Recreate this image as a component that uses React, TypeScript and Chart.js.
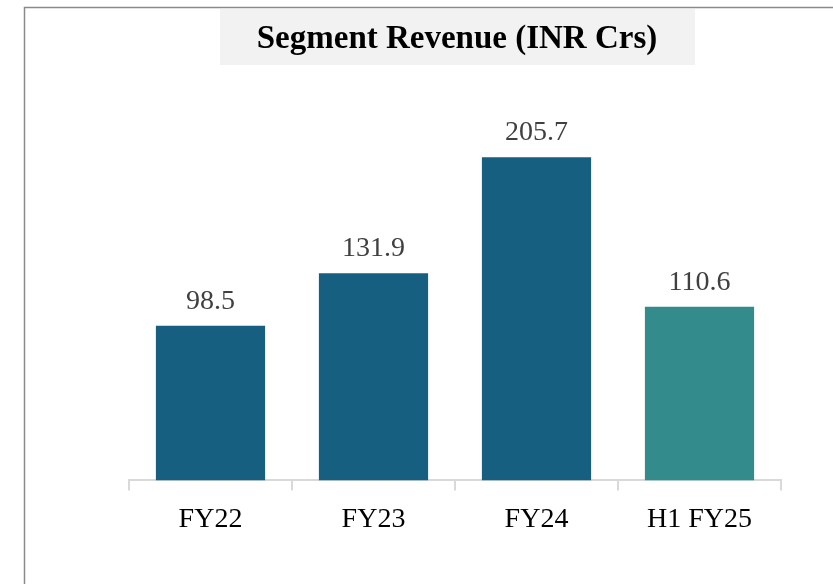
import React, { useEffect, useRef } from "react";
import { Chart, registerables } from "chart.js";

Chart.register(...registerables);

const categories = ["FY22", "FY23", "FY24", "H1 FY25"];
const revenue = [98.5, 131.9, 205.7, 110.6];
const barColors = ["#175F80", "#175F80", "#175F80", "#338B8C"];
const titleText = "Segment Revenue (INR Crs)";

const SERIF = "'Liberation Serif', 'Times New Roman', serif";

const decorPlugin = {
  id: "decor",
  beforeDraw(chart: any) {
    const ctx = chart.ctx;
    ctx.save();
    ctx.fillStyle = "#ffffff";
    ctx.fillRect(0, 0, chart.width, chart.height);
    // frame
    ctx.strokeStyle = "#8a8a8a";
    ctx.lineWidth = 1.5;
    ctx.beginPath();
    ctx.moveTo(24.5, chart.height);
    ctx.lineTo(24.5, 7.5);
    ctx.lineTo(chart.width, 7.5);
    ctx.stroke();
    // title box
    ctx.fillStyle = "#f2f2f2";
    ctx.fillRect(220, 9, 475, 56);
    ctx.fillStyle = "#000000";
    ctx.font = `bold 33px ${SERIF}`;
    ctx.textAlign = "center";
    ctx.textBaseline = "alphabetic";
    ctx.fillText(titleText, 457, 48);
    ctx.restore();
  },
  afterDatasetsDraw(chart: any) {
    const ctx = chart.ctx;
    const meta = chart.getDatasetMeta(0);
    ctx.save();
    ctx.fillStyle = "#404040";
    ctx.font = `28px ${SERIF}`;
    ctx.textAlign = "center";
    ctx.textBaseline = "alphabetic";
    meta.data.forEach((bar: any, i: number) => {
      ctx.fillText(revenue[i].toFixed(1), bar.x, bar.y - 17);
    });
    ctx.restore();
  },
};

export default function App() {
  const ref = useRef<HTMLCanvasElement | null>(null);
  useEffect(() => {
    if (!ref.current) return;
    const chart = new Chart(ref.current, {
      type: "bar",
      data: {
        labels: categories,
        datasets: [
          {
            data: revenue,
            backgroundColor: barColors,
            borderWidth: 0,
            barPercentage: 1,
            categoryPercentage: 0.67,
          },
        ],
      },
      options: {
        animation: false,
        responsive: false,
        maintainAspectRatio: false,
        layout: { padding: { top: 72, left: 129, right: 52, bottom: 36 } },
        plugins: {
          legend: { display: false },
          title: { display: false },
          tooltip: { enabled: false },
        },
        scales: {
          x: {
            offset: true,
            grid: {
              offset: true,
              drawOnChartArea: false,
              drawTicks: true,
              tickLength: 10,
              color: "#d9d9d9",
              lineWidth: 2,
            },
            border: { color: "#d9d9d9", width: 2 },
            ticks: {
              color: "#000000",
              font: { family: SERIF, size: 28 },
              padding: 12,
            },
          },
          y: {
            display: false,
            min: 0,
            max: 260,
          },
        },
      },
      plugins: [decorPlugin],
    });
    return () => chart.destroy();
  }, []);
  return (
    <div style={{ position: "fixed", left: 0, top: 0, width: 833, height: 584 }}>
      <canvas ref={ref} width={833} height={584} style={{ width: 833, height: 584 }} />
    </div>
  );
}
